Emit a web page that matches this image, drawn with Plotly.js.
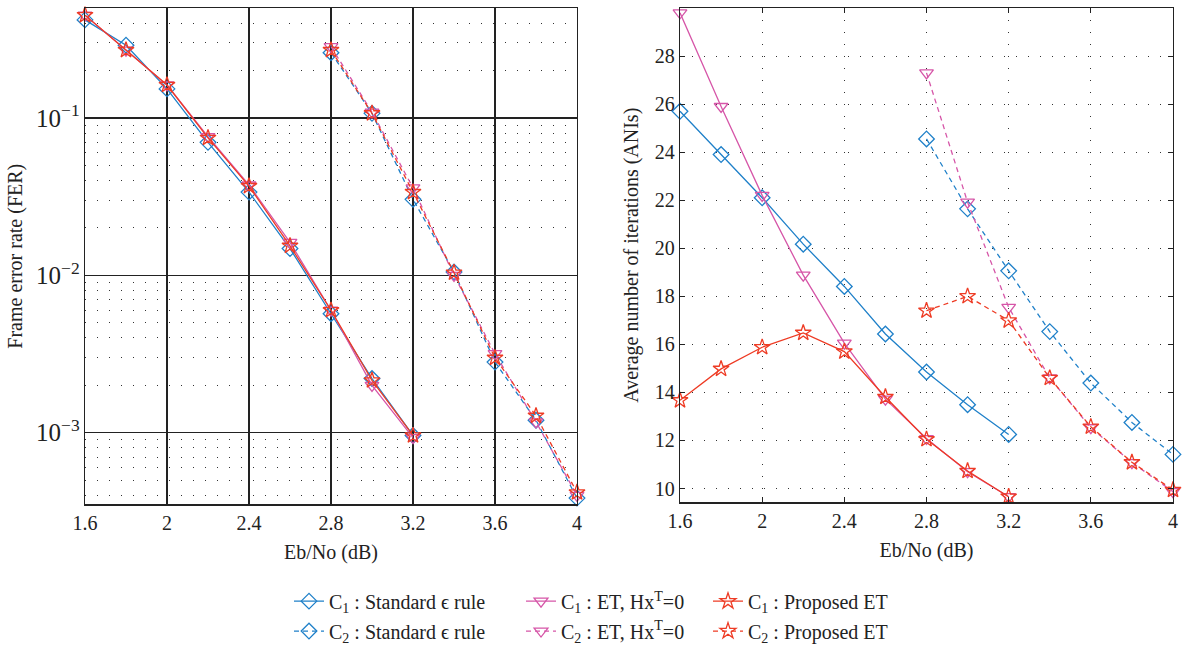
<!DOCTYPE html>
<html>
<head>
<meta charset="utf-8">
<script src="https://cdn.plot.ly/plotly-3.0.1.min.js"></script>
<style>html,body{margin:0;padding:0;background:#fff;}#chart{width:1186px;height:651px;}</style>
</head>
<body>
<div id="chart"></div>
<script>
// Eb/No values (dB)
const snrC1 = [1.6, 1.8, 2.0, 2.2, 2.4, 2.6, 2.8, 3.0, 3.2];
const snrC2 = [2.8, 3.0, 3.2, 3.4, 3.6, 3.8, 4.0];

// Frame error rate
const ferC1Std  = [0.42, 0.29, 0.153, 0.070, 0.0338, 0.0148, 0.0057, 0.00221, 0.00096];
const ferC1ET   = [0.45, 0.27, 0.162, 0.0760, 0.0375, 0.0162, 0.0060, 0.0020, 0.00093];
const ferC1Prop = [0.45, 0.27, 0.162, 0.0747, 0.0369, 0.0154, 0.0060, 0.00215, 0.00096];
const ferC2Std  = [0.26, 0.107, 0.0304, 0.0105, 0.00281, 0.0012, 0.000384];
const ferC2ET   = [0.284, 0.109, 0.036, 0.0100, 0.00318, 0.00117, 0.000400];
const ferC2Prop = [0.27, 0.107, 0.0338, 0.0104, 0.00299, 0.00128, 0.000417];

// Average number of iterations
const aniC1Std  = [25.7, 23.9, 22.1, 20.17, 18.41, 16.43, 14.85, 13.49, 12.25];
const aniC1ET   = [29.8, 25.9, 22.2, 18.88, 16.05, 13.72, 12.08, 10.7, 9.66];
const aniC1Prop = [13.67, 14.98, 15.88, 16.48, 15.70, 13.81, 12.05, 10.73, 9.66];
const aniC2Std  = [24.55, 21.64, 19.06, 16.53, 14.39, 12.75, 11.42];
const aniC2ET   = [27.3, 21.92, 17.54, 14.6, 12.53, 11.08, 9.87];
const aniC2Prop = [17.4, 18.0, 16.99, 14.6, 12.57, 11.09, 9.94];

// Legend labels
const labC1Std  = 'C<sub>1</sub> : Standard \u03F5 rule';
const labC1ET   = 'C<sub>1</sub> : ET, Hx<sup>T</sup>=0';
const labC1Prop = 'C<sub>1</sub> : Proposed ET';
const labC2Std  = 'C<sub>2</sub> : Standard \u03F5 rule';
const labC2ET   = 'C<sub>2</sub> : ET, Hx<sup>T</sup>=0';
const labC2Prop = 'C<sub>2</sub> : Proposed ET';

const xTicks = [1.6, 2, 2.4, 2.8, 3.2, 3.6, 4];
const xTickText = ['1.6', '2', '2.4', '2.8', '3.2', '3.6', '4'];
const aniTicks = [10, 12, 14, 16, 18, 20, 22, 24, 26, 28];

const BLUE = '#1f80c9', PINK = '#d656a8', RED = '#ee3b24';
const FONT = 'Liberation Serif, DejaVu Serif, serif';
const FS = 20;

function mkFont(size) { return {family: FONT, size: size, color: '#222'}; }

function tr(x, y, name, color, dash, symbol, xa, ya, legend, show) {
  return {
    x: x, y: y, name: name, type: 'scatter', mode: 'lines+markers',
    xaxis: xa, yaxis: ya, legend: legend, showlegend: show, cliponaxis: false,
    line: {color: color, width: 1.3, dash: dash},
    marker: {symbol: symbol, size: 12, color: color, line: {color: color, width: 1.3}}
  };
}
const dashP = '5px,4px';
const data = [
  tr(snrC1, ferC1Std,  labC1Std,  BLUE, 'solid', 'diamond-open', 'x', 'y', 'legend', false),
  tr(snrC1, ferC1ET,   labC1ET,   PINK, 'solid', 'triangle-down-open', 'x', 'y', 'legend', false),
  tr(snrC1, ferC1Prop, labC1Prop, RED,  'solid', 'star-open', 'x', 'y', 'legend', false),
  tr(snrC2, ferC2Std,  labC2Std,  BLUE, dashP, 'diamond-open', 'x', 'y', 'legend', false),
  tr(snrC2, ferC2ET,   labC2ET,   PINK, dashP, 'triangle-down-open', 'x', 'y', 'legend', false),
  tr(snrC2, ferC2Prop, labC2Prop, RED,  dashP, 'star-open', 'x', 'y', 'legend', false),
  tr(snrC1, aniC1Std,  labC1Std,  BLUE, 'solid', 'diamond-open', 'x2', 'y2', 'legend', true),
  tr(snrC1, aniC1ET,   labC1ET,   PINK, 'solid', 'triangle-down-open', 'x2', 'y2', 'legend2', true),
  tr(snrC1, aniC1Prop, labC1Prop, RED,  'solid', 'star-open', 'x2', 'y2', 'legend3', true),
  tr(snrC2, aniC2Std,  labC2Std,  BLUE, dashP, 'diamond-open', 'x2', 'y2', 'legend4', true),
  tr(snrC2, aniC2ET,   labC2ET,   PINK, dashP, 'triangle-down-open', 'x2', 'y2', 'legend5', true),
  tr(snrC2, aniC2Prop, labC2Prop, RED,  dashP, 'star-open', 'x2', 'y2', 'legend6', true)
];

const W = 1186, H = 651;
const px = v => v / W, py = v => 1 - v / H;
function axBase() {
  return {
    showline: true, linecolor: '#222', linewidth: 1.3, mirror: 'ticks',
    ticks: 'inside', ticklen: 5, tickcolor: '#222', tickwidth: 1,
    tickfont: mkFont(FS), zeroline: false
  };
}
const dotGrid = '1.3px,10.7px';
function leg(xp, yp) {
  return {orientation: 'h', x: px(xp), xanchor: 'left', y: py(yp), yanchor: 'middle',
          font: mkFont(FS), bgcolor: 'rgba(0,0,0,0)', borderwidth: 0};
}

const layout = {
  width: W, height: H,
  margin: {l: 0, r: 0, t: 0, b: 0},
  paper_bgcolor: '#fff', plot_bgcolor: '#fff',
  font: mkFont(FS),
  xaxis: Object.assign(axBase(), {
    domain: [px(85), px(577)], range: [1.6, 4], anchor: 'y',
    tickmode: 'array', tickvals: xTicks, ticktext: xTickText,
    showgrid: true, gridcolor: '#222', gridwidth: 1.2,
    title: {text: 'Eb/No (dB)', font: mkFont(FS), standoff: 12}
  }),
  yaxis: Object.assign(axBase(), {
    domain: [py(506), py(8)], type: 'log', range: [Math.log10(3.5e-4), Math.log10(0.5)], anchor: 'x',
    tickmode: 'linear', tick0: 0, dtick: 1, exponentformat: 'power',
    showgrid: true, gridcolor: '#222', gridwidth: 1.2,
    minor: {dtick: 'D1', showgrid: true, griddash: dotGrid, gridcolor: '#333', gridwidth: 1, ticks: ''},
    title: {text: 'Frame error rate (FER)', font: mkFont(FS), standoff: 8}
  }),
  xaxis2: Object.assign(axBase(), {
    domain: [px(680), px(1173)], range: [1.6, 4], anchor: 'y2',
    tickmode: 'array', tickvals: xTicks, ticktext: xTickText,
    showgrid: true, gridcolor: '#333', gridwidth: 1, griddash: dotGrid,
    title: {text: 'Eb/No (dB)', font: mkFont(FS), standoff: 12}
  }),
  yaxis2: Object.assign(axBase(), {
    domain: [py(504), py(8)], range: [9.42, 30], anchor: 'x2',
    tickmode: 'array', tickvals: aniTicks,
    showgrid: true, gridcolor: '#333', gridwidth: 1, griddash: dotGrid,
    title: {text: 'Average number of iterations (ANIs)', font: mkFont(FS), standoff: 10}
  }),
  legend:  leg(289, 603),
  legend2: leg(521, 603),
  legend3: leg(708, 603),
  legend4: leg(289, 633),
  legend5: leg(521, 633),
  legend6: leg(708, 633)
};

Plotly.newPlot('chart', data, layout, {displayModeBar: false, staticPlot: true});
</script>
</body>
</html>
